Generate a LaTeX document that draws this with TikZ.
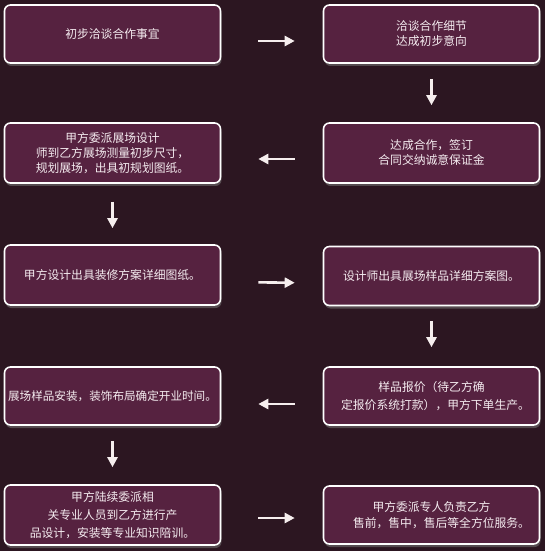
\documentclass[tikz,border=0pt]{standalone}
\usepackage{fontspec}
\newfontfamily\cjk{Noto Sans CJK SC}
\usetikzlibrary{shadows,arrows.meta}
\definecolor{bg}{RGB}{44,22,33}
\definecolor{boxfill}{RGB}{86,34,64}
\definecolor{txt}{RGB}{245,236,240}
\definecolor{arr}{RGB}{246,238,238}
\begin{document}
\begin{tikzpicture}[x=1bp,y=-1bp,
  stepbox/.style={draw=white, line width=1.6bp, rounded corners=6bp, fill=boxfill, text=txt,
    font=\cjk\fontsize{11.8bp}{15bp}\selectfont, align=center, inner sep=0pt,
    minimum width=216bp, drop shadow={shadow xshift=1bp,shadow yshift=-3bp,opacity=0.5}},
  flow/.style={draw=arr, line width=2.6bp, -{Triangle[length=10bp,width=10bp]}}]
\fill[bg] (0,0) rectangle (545,551);
\useasboundingbox (0,0) rectangle (545,551);

\node[stepbox, minimum height=58bp] (a1) at (112.5,34) {初步洽谈合作事宜};
\node[stepbox, minimum height=58bp] (b1) at (431.5,34) {洽谈合作细节\\达成初步意向};
\node[stepbox, minimum height=60bp] (b2) at (431.5,153) {达成合作，签订\\合同交纳诚意保证金};
\node[stepbox, minimum height=60bp] (a2) at (112.5,153) {甲方委派展场设计\\师到乙方展场测量初步尺寸，\\规划展场，出具初规划图纸。};
\node[stepbox, minimum height=60bp] (a3) at (112.5,275) {甲方设计出具装修方案详细图纸。};
\node[stepbox, minimum height=59bp] (b3) at (431.5,276) {设计师出具展场样品详细方案图。};
\node[stepbox, minimum height=58bp, font=\cjk\fontsize{11.8bp}{18bp}\selectfont] (b4) at (431.5,396) {样品报价（待乙方确\\\hspace*{8bp}定报价系统打款），甲方下单生产。};
\node[stepbox, minimum height=58bp, font=\cjk\fontsize{11.6bp}{15bp}\selectfont] (a4) at (112.5,396) {展场样品安装，装饰布局确定开业时间。};
\node[stepbox, minimum height=60bp, font=\cjk\fontsize{11.8bp}{18bp}\selectfont] (a5) at (112.5,515) {甲方陆续委派相\\关专业人员到乙方进行产\\品设计，安装等专业知识陪训。};
\node[stepbox, minimum height=58bp, font=\cjk\fontsize{11.8bp}{16bp}\selectfont] (b5) at (431.5,515) {甲方委派专人负责乙方\\\hspace*{20bp}售前，售中，售后等全方位服务。};

\draw[flow, shorten <=37bp, shorten >=28bp] ([yshift=-7bp]a1.east) -- ([yshift=-7bp]b1.west);
\draw[flow, shorten <=15bp, shorten >=17bp] (b1.south) -- (b2.north);
\draw[flow, shorten <=28bp, shorten >=37bp] ([yshift=-6bp]b2.west) -- ([yshift=-6bp]a2.east);
\draw[flow, shorten <=18bp, shorten >=16bp] (a2.south) -- (a3.north);
\draw[flow, shorten <=37bp, shorten >=28bp] ([yshift=-7bp]a3.east) -- ([yshift=-7bp]b3.west);
\draw[flow, shorten <=15bp, shorten >=19bp] (b3.south) -- (b4.north);
\draw[flow, shorten <=28bp, shorten >=37bp] ([yshift=-8bp]b4.west) -- ([yshift=-8bp]a4.east);
\draw[flow, shorten <=15bp, shorten >=17bp] (a4.south) -- (a5.north);
\draw[flow, shorten <=37bp, shorten >=28bp] ([yshift=-3bp]a5.east) -- ([yshift=-3bp]b5.west);
\end{tikzpicture}
\end{document}
